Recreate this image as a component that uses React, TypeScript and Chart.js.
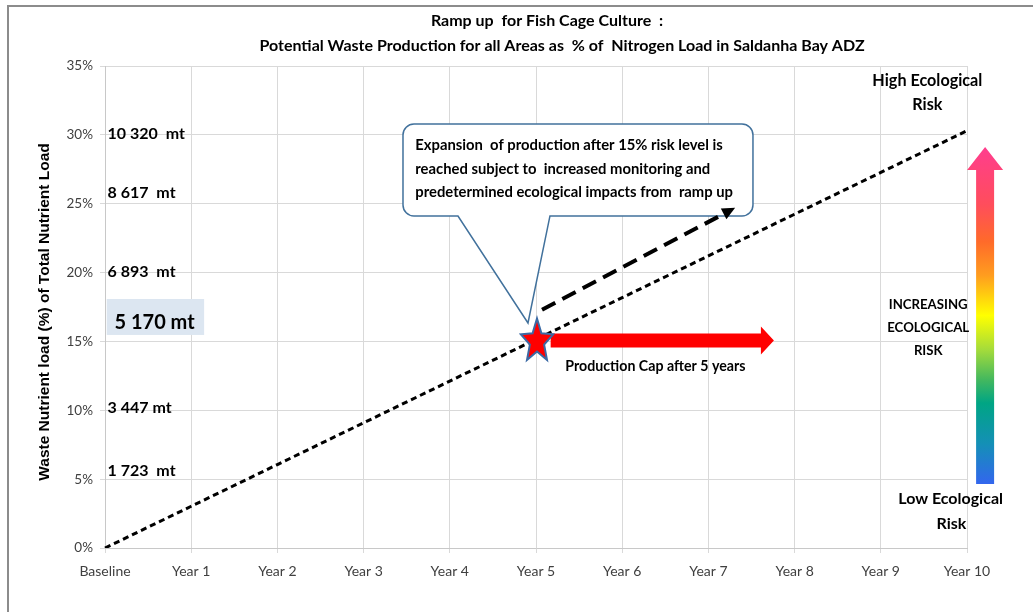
import React, { useEffect, useRef } from "react";
import { Chart, registerables } from "chart.js";

Chart.register(...registerables);

// Categories along the time axis
const years = ["Baseline", "Year 1", "Year 2", "Year 3", "Year 4", "Year 5", "Year 6", "Year 7", "Year 8", "Year 9", "Year 10"];
// Waste nutrient load (% of total nutrient load) for the ramp-up path
const wasteLoad = [0, 3.03, 6.06, 9.09, 12.12, 15.15, 18.18, 21.21, 24.24, 27.27, 30.3];
// Y axis range and step (%)
const yRange = [0, 35];
const yStep = 5;

// Tonnage equivalents written beside the y axis, with the level (%) each sits at
const tonnageLabels = ["10 320  mt", "8 617  mt", "6 893  mt", "5 170 mt", "3 447 mt", "1 723  mt"];
const tonnageLevels = [30.1, 25.8, 20.05, 16.4, 10.15, 5.6];
const highlightedTonnage = "5 170 mt";

// Production cap: reached at Year 5 at the 15% risk level
const capPoint = [5, 15];
// Red "production cap" arrow: [from year, to year] at the cap level
const capArrow = [5.17, 7.76];
// Dashed expansion arrow: [year, %] start and end
const expansionFrom = [5.07, 17.3];
const expansionTo = [7.31, 24.7];

const titleLines = [
  "Ramp up  for Fish Cage Culture  :",
  "Potential Waste Production for all Areas as  % of  Nitrogen Load in Saldanha Bay ADZ",
];
const calloutLines = [
  "Expansion  of production after 15% risk level is",
  "reached subject to  increased monitoring and",
  "predetermined ecological impacts from  ramp up",
];
const capText = "Production Cap after 5 years";
const riskTop = ["High Ecological", "Risk"];
const riskMiddle = ["INCREASING", "ECOLOGICAL", "RISK"];
const riskBottom = ["Low Ecological", "Risk"];
const yTitle = "Waste Nutrient load (%) of Total Nutrient Load";

const FONT = "Lato, 'Open Sans', sans-serif";

function starPath(ctx: CanvasRenderingContext2D, cx: number, cy: number, R: number, r: number, sy: number) {
  ctx.beginPath();
  for (let i = 0; i < 10; i++) {
    const ang = -Math.PI / 2 + (i * Math.PI) / 5;
    const rad = i % 2 === 0 ? R : r;
    const px = cx + rad * Math.cos(ang);
    const py = cy + rad * Math.sin(ang) * sy;
    if (i === 0) ctx.moveTo(px, py);
    else ctx.lineTo(px, py);
  }
  ctx.closePath();
}

const overlayPlugin = {
  id: "overlay",
  afterDatasetsDraw(chart: any) {
    const { ctx } = chart;
    const xs = chart.scales.x;
    const ys = chart.scales.y;
    const px = (v: number) => xs.getPixelForValue(v);
    const py = (v: number) => ys.getPixelForValue(v);
    const area = chart.chartArea;

    ctx.save();

    // Title
    ctx.fillStyle = "#000";
    ctx.textAlign = "center";
    ctx.textBaseline = "middle";
    ctx.font = `bold 16px ${FONT}`;
    const mid = (area.left + area.right) / 2;
    ctx.fillText(titleLines[0], mid + 11, 21);
    ctx.fillText(titleLines[1], mid + 26, 46);

    // Y axis title
    ctx.save();
    ctx.translate(45, (area.top + area.bottom) / 2 + 5);
    ctx.rotate(-Math.PI / 2);
    ctx.font = "bold 15.5px 'Liberation Sans', Arial, sans-serif";
    ctx.fillText(yTitle, 0, 0);
    ctx.restore();

    // Tonnage labels
    ctx.textAlign = "left";
    tonnageLabels.forEach((t, i) => {
      const lvl = tonnageLevels[i];
      if (t === highlightedTonnage) {
        ctx.fillStyle = "#dce6f1";
        const x0 = px(0.02);
        const x1 = px(1.15);
        const y0 = py(18.08);
        const y1 = py(15.47);
        ctx.fillRect(x0, y0, x1 - x0, y1 - y0);
        ctx.fillStyle = "#000";
        ctx.font = `bold 20px ${FONT}`;
        ctx.fillText(t, px(0.11), py(lvl));
      } else {
        ctx.fillStyle = "#000";
        ctx.font = `bold 16px ${FONT}`;
        ctx.fillText(t, px(0.03), py(lvl));
      }
    });

    // Callout box with pointer towards the cap point
    {
      const L = px(3.457), R = px(7.517), T = py(30.79), B = py(24.11);
      const pL = px(4.095), pR = px(5.162);
      const tipX = px(4.907), tipY = py(16.34);
      const rad = 11;
      ctx.beginPath();
      ctx.moveTo(L + rad, T);
      ctx.lineTo(R - rad, T);
      ctx.arcTo(R, T, R, T + rad, rad);
      ctx.lineTo(R, B - rad);
      ctx.arcTo(R, B, R - rad, B, rad);
      ctx.lineTo(pR, B);
      ctx.lineTo(tipX, tipY);
      ctx.lineTo(pL, B);
      ctx.lineTo(L + rad, B);
      ctx.arcTo(L, B, L, B - rad, rad);
      ctx.lineTo(L, T + rad);
      ctx.arcTo(L, T, L + rad, T, rad);
      ctx.closePath();
      ctx.fillStyle = "#fff";
      ctx.fill();
      ctx.strokeStyle = "#41719c";
      ctx.lineWidth = 1.5;
      ctx.stroke();

      ctx.fillStyle = "#000";
      ctx.font = `bold 14.8px ${FONT}`;
      ctx.textAlign = "left";
      const lineLevels = [29.26, 27.52, 25.85];
      calloutLines.forEach((l, i) => ctx.fillText(l, px(3.6), py(lineLevels[i])));
    }

    // Dashed expansion arrow
    {
      const x0 = px(expansionFrom[0]), y0 = py(expansionFrom[1]);
      const x1 = px(expansionTo[0]), y1 = py(expansionTo[1]);
      const ang = Math.atan2(y1 - y0, x1 - x0);
      const headLen = 13;
      const headW = 6;
      const bx = x1 - headLen * Math.cos(ang);
      const by = y1 - headLen * Math.sin(ang);
      ctx.strokeStyle = "#000";
      ctx.lineWidth = 4;
      ctx.setLineDash([15, 8]);
      ctx.beginPath();
      ctx.moveTo(x0, y0);
      ctx.lineTo(bx, by);
      ctx.stroke();
      ctx.setLineDash([]);
      ctx.fillStyle = "#000";
      ctx.beginPath();
      ctx.moveTo(x1, y1);
      ctx.lineTo(bx + headW * Math.sin(ang), by - headW * Math.cos(ang));
      ctx.lineTo(bx - headW * Math.sin(ang), by + headW * Math.cos(ang));
      ctx.closePath();
      ctx.fill();
    }

    // Red production-cap arrow
    {
      const x0 = px(capArrow[0]);
      const x1 = px(capArrow[1]);
      const yc = py(capPoint[1]) - 1;
      const headLen = 13;
      ctx.fillStyle = "#ff0000";
      ctx.beginPath();
      ctx.moveTo(x0, yc - 7);
      ctx.lineTo(x1 - headLen, yc - 7);
      ctx.lineTo(x1 - headLen, yc - 14);
      ctx.lineTo(x1, yc);
      ctx.lineTo(x1 - headLen, yc + 14);
      ctx.lineTo(x1 - headLen, yc + 7);
      ctx.lineTo(x0, yc + 7);
      ctx.closePath();
      ctx.fill();
    }

    // Star at the cap point
    {
      const cx = px(capPoint[0]) + 1;
      const cy = py(capPoint[1]);
      starPath(ctx, cx, cy, 17, 7.5, 1.35);
      ctx.fillStyle = "#ff0000";
      ctx.fill();
      ctx.strokeStyle = "#3b6aa5";
      ctx.lineWidth = 2;
      ctx.stroke();
    }

    ctx.fillStyle = "#000";
    ctx.font = `bold 14.2px ${FONT}`;
    ctx.textAlign = "left";
    ctx.fillText(capText, px(5.34), py(13.2));

    // Risk gradient arrow on the right
    {
      const cx = px(10.21);
      const yBottom = py(4.65);
      const yBase = py(27.45);
      const yTip = py(29.12);
      const g = ctx.createLinearGradient(0, yTip, 0, yBottom);
      g.addColorStop(0, "#ff3d8e");
      g.addColorStop(0.17, "#ff4d5c");
      g.addColorStop(0.28, "#ff6a2a");
      g.addColorStop(0.38, "#ff9c1f");
      g.addColorStop(0.5, "#ffff00");
      g.addColorStop(0.6, "#a6dc3a");
      g.addColorStop(0.69, "#44b85e");
      g.addColorStop(0.76, "#00a584");
      g.addColorStop(0.88, "#1490b6");
      g.addColorStop(1, "#3366ee");
      ctx.fillStyle = g;
      ctx.beginPath();
      ctx.moveTo(cx, yTip);
      ctx.lineTo(cx + 18, yBase);
      ctx.lineTo(cx + 9, yBase);
      ctx.lineTo(cx + 9, yBottom);
      ctx.lineTo(cx - 9, yBottom);
      ctx.lineTo(cx - 9, yBase);
      ctx.lineTo(cx - 18, yBase);
      ctx.closePath();
      ctx.fill();
    }

    // Risk labels
    ctx.fillStyle = "#000";
    ctx.textAlign = "center";
    ctx.font = `bold 16.2px ${FONT}`;
    ctx.fillText(riskTop[0], px(9.54), py(33.91));
    ctx.fillText(riskTop[1], px(9.54), py(32.17));
    ctx.font = `bold 13.2px ${FONT}`;
    const midLevels = [17.65, 15.98, 14.31];
    riskMiddle.forEach((t, i) => ctx.fillText(t, px(9.55), py(midLevels[i])));
    ctx.font = `bold 16px ${FONT}`;
    ctx.fillText(riskBottom[0], px(9.81), py(3.56));
    ctx.fillText(riskBottom[1], px(9.82), py(1.74));

    ctx.restore();
  },
};

export default function App() {
  const canvasRef = useRef<HTMLCanvasElement | null>(null);

  useEffect(() => {
    if (!canvasRef.current) return;
    const chart = new Chart(canvasRef.current, {
      type: "line",
      data: {
        labels: years,
        datasets: [
          {
            data: wasteLoad,
            borderColor: "#000",
            borderWidth: 3,
            borderDash: [6, 4],
            pointRadius: 0,
            fill: false,
            tension: 0,
          },
        ],
      },
      options: {
        responsive: false,
        animation: false,
        events: [],
        layout: { padding: { top: 66, right: 66, left: 0, bottom: 0 } },
        plugins: {
          legend: { display: false },
          tooltip: { enabled: false },
          title: { display: false },
        },
        scales: {
          x: {
            type: "category",
            offset: false,
            grid: { color: "#d9d9d9", tickLength: 5, lineWidth: 1 },
            border: { color: "#c8c8c8" },
            ticks: {
              font: { family: FONT, size: 14 },
              color: "#404040",
              padding: 10,
              maxRotation: 0,
              autoSkip: false,
            },
            afterFit: (s: any) => {
              s.height = 64;
            },
          },
          y: {
            min: yRange[0],
            max: yRange[1],
            grid: { color: "#d9d9d9", tickLength: 5, lineWidth: 1 },
            border: { color: "#c8c8c8" },
            ticks: {
              stepSize: yStep,
              font: { family: FONT, size: 13.5 },
              color: "#404040",
              padding: 7,
              callback: (v: any) => `${v}%`,
            },
            afterFit: (s: any) => {
              s.width = 105;
            },
          },
        },
      },
      plugins: [overlayPlugin],
    } as any);
    return () => chart.destroy();
  }, []);

  return (
    <div style={{ position: "fixed", left: 0, top: 0, width: 1033, height: 612, background: "#fff", overflow: "hidden" }}>
      <div
        style={{
          position: "absolute",
          left: 7,
          top: 5,
          width: 1100,
          height: 700,
          borderTop: "2px solid #8c8c8c",
          borderLeft: "2px solid #8c8c8c",
        }}
      />
      <canvas ref={canvasRef} width={1033} height={612} style={{ position: "absolute", left: 0, top: 0 }} />
    </div>
  );
}
